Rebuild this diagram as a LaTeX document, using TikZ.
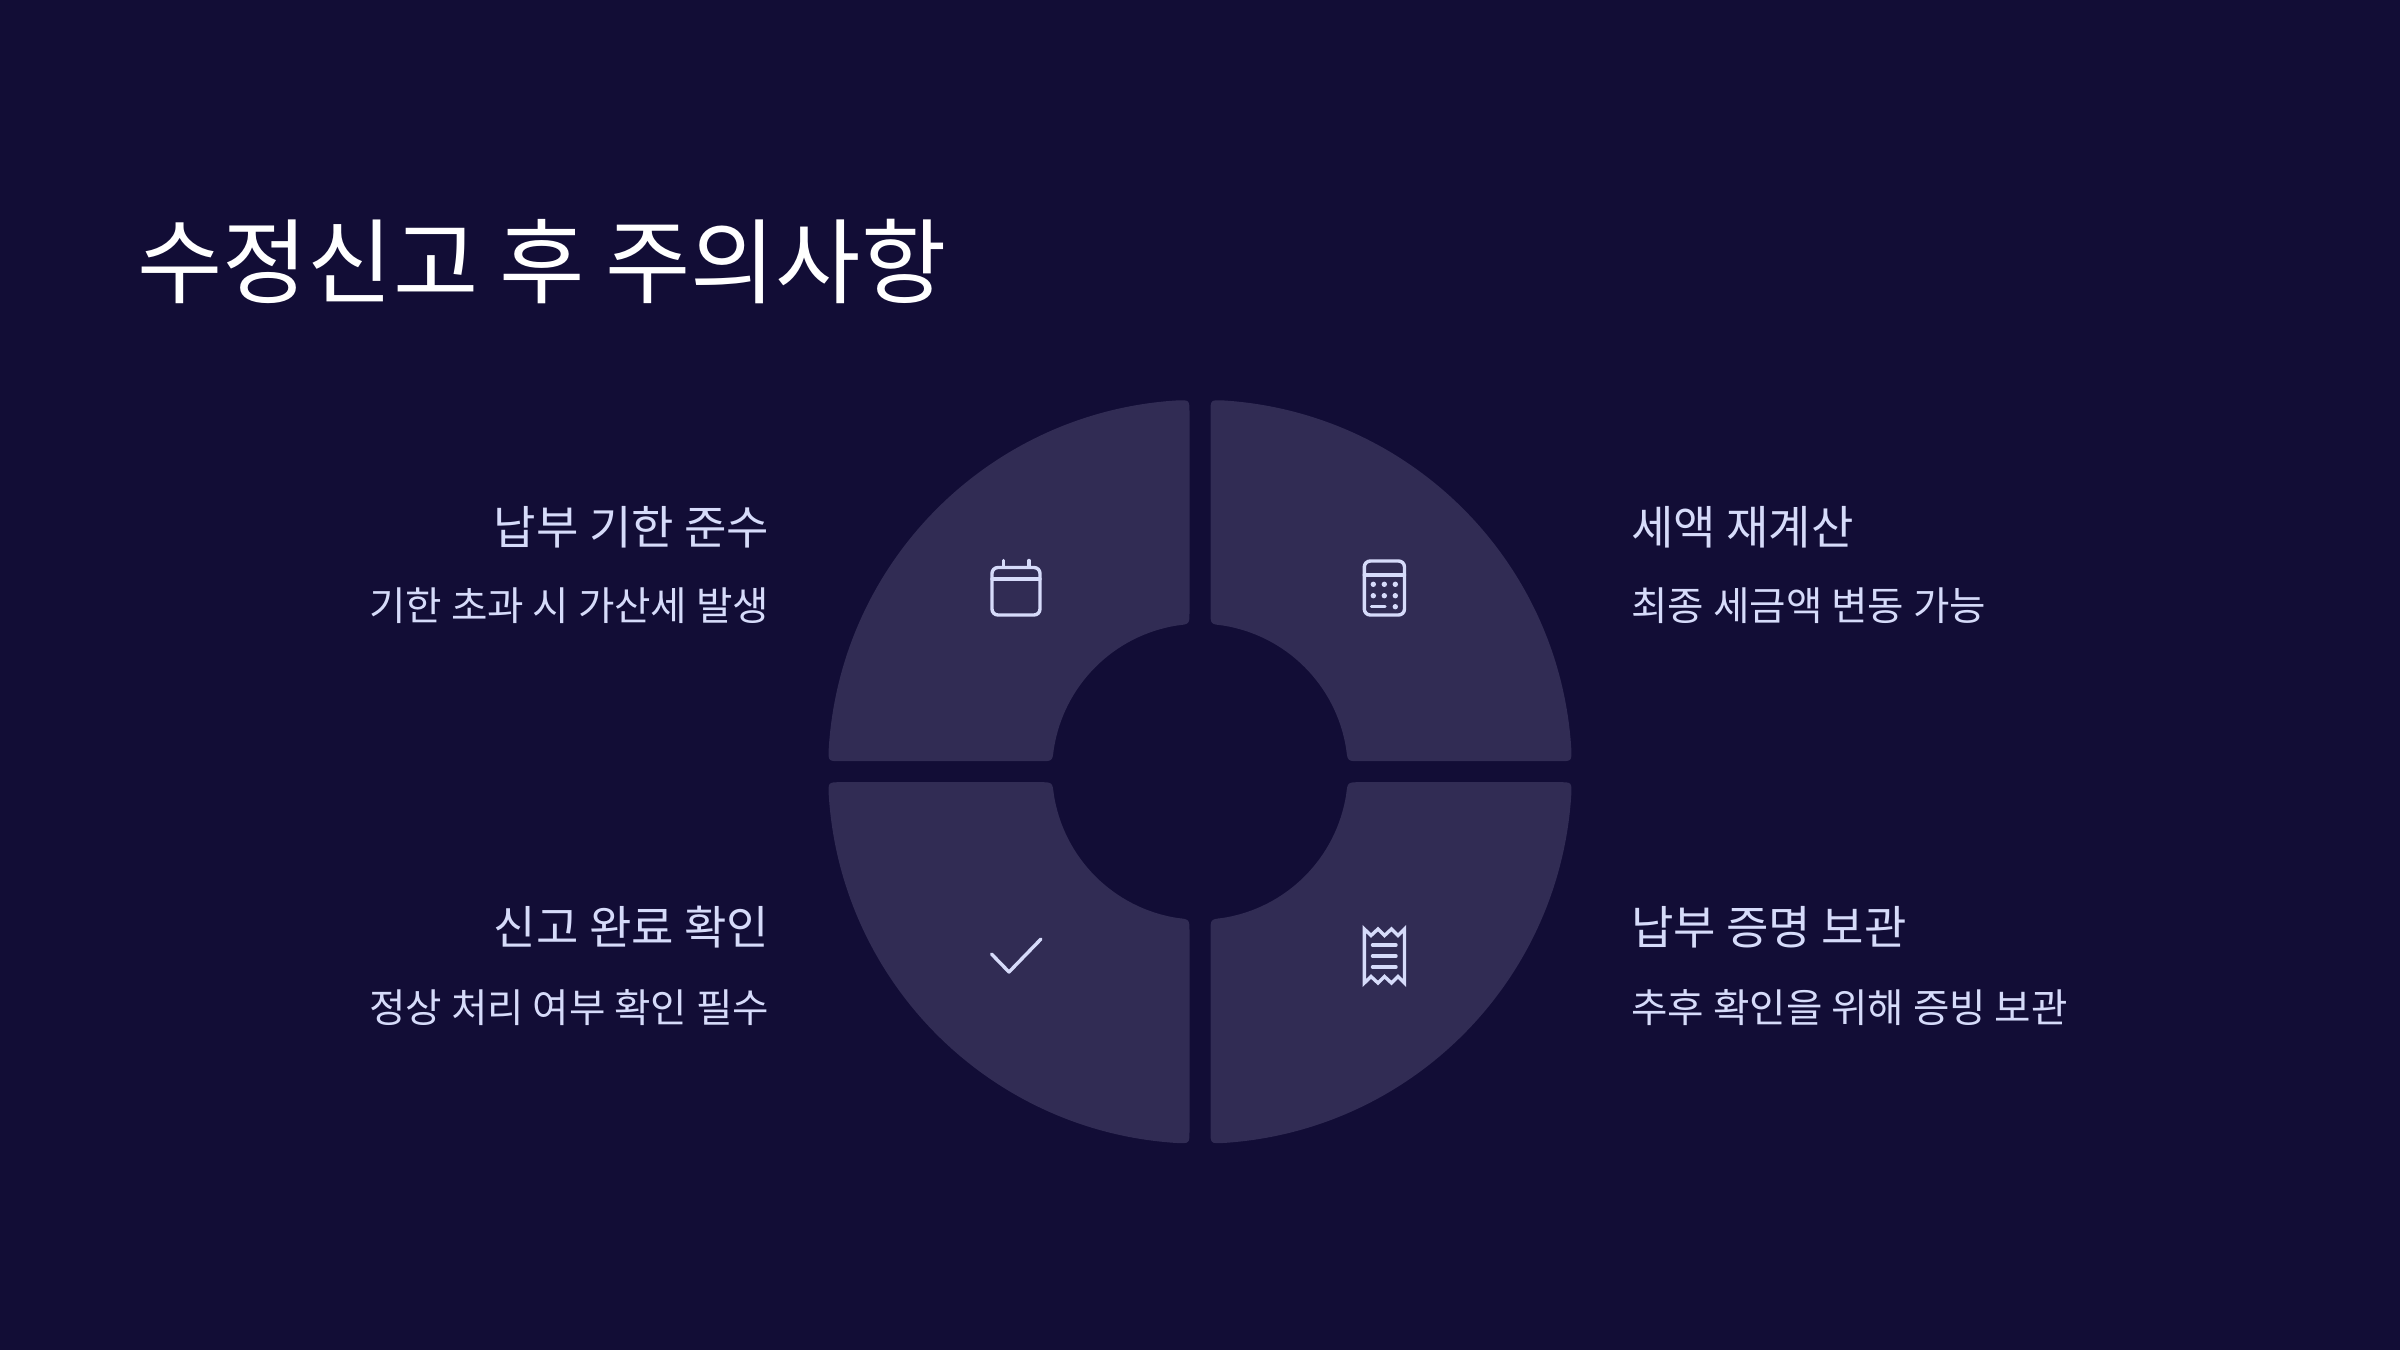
\documentclass[tikz,border=0pt]{standalone}
\usepackage{fontspec}
\setmainfont{Noto Sans CJK KR}
\usepackage{xcolor}
\definecolor{bgcol}{HTML}{120D36}
\definecolor{sectorcol}{HTML}{312C54}
\definecolor{iconcol}{HTML}{D6DBFA}
\tikzset{
  heading/.style={font=\fontsize{46.35}{50}\selectfont,text=white,inner sep=0pt},
  label/.style={font=\fontsize{23.05}{28}\selectfont,text=iconcol,inner sep=0pt},
  sublabel/.style={font=\fontsize{19.8}{24}\selectfont,text=iconcol,inner sep=0pt},
  icon/.style={draw=iconcol,line width=1.7pt,line cap=round,line join=round},
  sector/.pic={
    \fill[sectorcol] (10.5,160) -- (10.5,359) .. controls (10.5,371.85) .. (23.5,371.26)
      arc (86.38:3.62:372) .. controls (371.85,10.5) .. (359,10.5)
      -- (160,10.5) .. controls (147.6,10.5) .. (146.2,22.5)
      arc (8.74:81.26:148) .. controls (10.5,147.6) .. cycle;
  }
}
\begin{document}
\begin{tikzpicture}[x=0.5pt,y=-0.5pt]
  \fill[bgcol] (0,0) rectangle (2400,1350);
  \node[heading,anchor=base west] (title) at (137,296) {수정신고 후 주의사항};

  % four quarters of the ring
  \pic at (1200,771.7) {sector};
  \pic[xscale=-1] at (1200,771.7) {sector};
  \pic[yscale=-1] at (1200,771.7) {sector};
  \pic[xscale=-1,yscale=-1] at (1200,771.7) {sector};

  % texts
  \node[label,anchor=base east] (label1) at (769.5,544) {납부 기한 준수};
  \node[sublabel,anchor=base east] (sub1) at (769.5,620) {기한 초과 시 가산세 발생};
  \node[label,anchor=base west] (label2) at (1631,544) {세액 재계산};
  \node[sublabel,anchor=base west] (sub2) at (1631,620) {최종 세금액 변동 가능};
  \node[label,anchor=base east] (label3) at (769.5,944) {신고 완료 확인};
  \node[sublabel,anchor=base east] (sub3) at (769.5,1022) {정상 처리 여부 확인 필수};
  \node[label,anchor=base west] (label4) at (1631,944) {납부 증명 보관};
  \node[sublabel,anchor=base west] (sub4) at (1631,1022) {추후 확인을 위해 증빙 보관};

  % calendar
  \draw[icon,rounded corners=3pt] (992,567.5) rectangle (1040,615);
  \draw[icon] (992,579) -- (1040,579);
  \draw[icon] (1003.3,560.5) -- (1003.3,567) (1029,560.5) -- (1029,567);

  % calculator
  \draw[icon,rounded corners=3pt] (1364.3,561) rectangle (1404.5,615);
  \draw[icon] (1364.3,575) -- (1404.5,575);
  \foreach \y in {584.3,595.7}
    \foreach \x in {1373.3,1384.3,1395.3}
      \fill[iconcol] (\x,\y) circle (2.7);
  \draw[icon] (1371.5,606.7) -- (1385,606.7);
  \fill[iconcol] (1395.3,606.7) circle (2.7);

  % tick
  \draw[icon] (991.5,954) -- (1009,972) -- (1041,939);

  % receipt
  \draw[icon,line cap=butt,line join=miter] (1364.3,929) -- (1364.3,983) -- (1371,976.5) -- (1378,983)
    -- (1384.5,976.5) -- (1391.5,983) -- (1398,976.5) -- (1404.5,983) -- (1404.5,929)
    -- (1398,935.5) -- (1391.5,929) -- (1384.5,935.5) -- (1378,929) -- (1371,935.5) -- cycle;
  \draw[icon] (1372.5,945) -- (1396,945) (1372.5,956) -- (1396,956) (1372.5,967) -- (1396,967);
\end{tikzpicture}
\end{document}
